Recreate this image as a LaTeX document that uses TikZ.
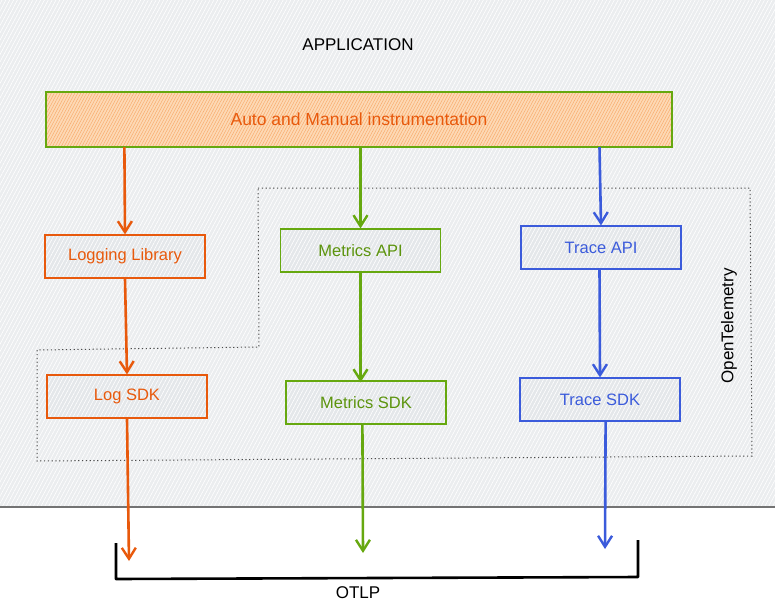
\documentclass[tikz,border=0pt]{standalone}
\usepackage{fontspec}
\setmainfont{Liberation Sans}
\usetikzlibrary{arrows.meta,patterns.meta}
\definecolor{bgfill}{HTML}{EBEDEF}
\definecolor{ored}{HTML}{E8590C}
\definecolor{ogreen}{HTML}{66A80F}
\definecolor{ogtext}{HTML}{5C940D}
\definecolor{oblue}{HTML}{3B5BDB}
\definecolor{boxfill}{HTML}{E4E7EA}
\definecolor{peach}{HTML}{FDD9B5}
\definecolor{peachline}{HTML}{F8A868}
\begin{document}
\begin{tikzpicture}[x=1pt,y=-1pt,
  hatch/.style={pattern={Lines[angle=62,distance=3.4pt,line width=0.6pt]},pattern color=white},
  stepbox/.style={draw,line width=1.2pt,preaction={fill=boxfill},hatch,
    minimum width=160pt,minimum height=43pt,inner sep=0pt,
    font=\fontsize{16.5}{19}\selectfont},
  flow/.style={-{Straight Barb[length=11pt,width=14pt,line width=2.4pt]},line width=2.6pt},
  lbl/.style={font=\fontsize{17}{20}\selectfont,text=black}
]
\useasboundingbox (0,0) rectangle (775,605);
% background
\fill[white] (0,0) rectangle (775,605);
\fill[bgfill] (0,0) rectangle (775,507);
\fill[hatch] (0,0) rectangle (775,507);
\draw[black!55,line width=1.5pt] (0,507) -- (775,507);

\node[lbl] (app) at (358,45) {APPLICATION};

% auto box
\node[draw=ogreen,line width=1.2pt,preaction={fill=peach},
  pattern={Lines[angle=62,distance=2.6pt,line width=0.45pt]},pattern color=peachline,
  minimum width=626pt,minimum height=55pt,text=ored,
  font=\fontsize{17.5}{20}\selectfont] (auto) at (359,119.5) {Auto and Manual instrumentation};

% OpenTelemetry area
\draw[black!70,line width=1pt,dash pattern=on 1.2pt off 2.6pt] (258,188) -- (750,188) -- (752,456) -- (37,461) -- (37,350) -- (259,347) -- cycle;
\node[lbl,rotate=90] (otel) at (729,326) {OpenTelemetry};

% boxes
\node[stepbox,draw=ored,text=ored] (loglib) at (125,256.5) {Logging Library};
\node[stepbox,draw=ored,text=ored] (logsdk) at (127,396.5) {Log SDK};
\node[stepbox,draw=ogreen,text=ogtext] (metapi) at (360.5,250.5) {Metrics API};
\node[stepbox,draw=ogreen,text=ogtext] (metsdk) at (366,402.5) {Metrics SDK};
\node[stepbox,draw=oblue,text=oblue] (trapi) at (601,247.5) {Trace API};
\node[stepbox,draw=oblue,text=oblue] (trsdk) at (600,399.5) {Trace SDK};

% OTLP bracket
\coordinate (b1) at (116,543);
\coordinate (b2) at (116,579);
\coordinate (b3) at (638,577);
\coordinate (b4) at (638,540);
\draw[line width=2.6pt,line join=round] (b1) -- (b2) -- (b3) -- (b4);
\node[lbl] (otlp) at (358,593) {OTLP};

\coordinate (e1) at (129,561);
\coordinate (e2) at (363,553);
\coordinate (e3) at (605,549);

% arrows
\draw[flow,ored] ([xshift=-0.6pt]auto.south -| loglib.north) -- (loglib.north);
\draw[flow,ored] (loglib.south) -- (logsdk.north);
\draw[flow,ored] (logsdk.south) -- (e1);
\draw[flow,ogreen] (auto.south -| metapi.north) -- (metapi.north);
\draw[flow,ogreen] (metapi.south) -- ([yshift=-2pt]metsdk.north -| metapi.south);
\draw[flow,ogreen] ([xshift=-0.6pt]metsdk.south -| e2) -- (e2);
\draw[flow,oblue] ([xshift=-1.5pt]auto.south -| trapi.north) -- (trapi.north);
\draw[flow,oblue] ([xshift=-1.5pt]trapi.south) -- (trsdk.north);
\draw[flow,oblue] ([xshift=0.6pt]trsdk.south -| e3) -- (e3);
\end{tikzpicture}
\end{document}
